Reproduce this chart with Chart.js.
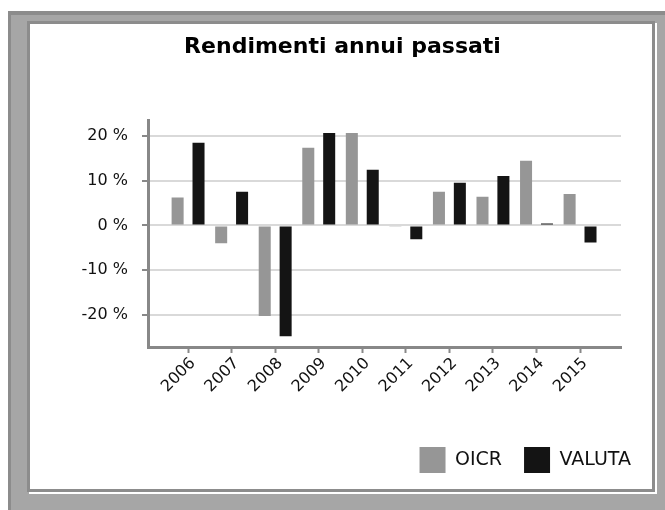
<!DOCTYPE html>
<html>
<head>
<meta charset="utf-8">
<script src="https://cdn.jsdelivr.net/npm/chart.js@4/dist/chart.umd.min.js"></script>
<style>
  html, body { margin: 0; padding: 0; background: #ffffff; }
  body { width: 665px; height: 510px; position: relative; overflow: hidden; }
  .outer { position: absolute; left: 8px; top: 11px; width: 657px; height: 499px; box-sizing: border-box;
           background: #a6a6a6; border-left: 3px solid #8c8c8c; border-top: 4px solid #8c8c8c; }
  .inner { position: absolute; left: 27px; top: 21px; width: 628px; height: 471px; box-sizing: border-box;
           background: #ffffff; border: 3px solid #8c8c8c; box-shadow: 2px 2px 0 #ffffff; }
  canvas { position: absolute; left: 0; top: 0; }
</style>
</head>
<body>
<div class="outer"></div>
<div class="inner"></div>
<canvas id="c" width="665" height="510"></canvas>
<script>
const titleText = 'Rendimenti annui passati';
const years = ['2006', '2007', '2008', '2009', '2010', '2011', '2012', '2013', '2014', '2015'];
const seriesNames = ['OICR', 'VALUTA'];
const oicr = [6.2, -4.0, -20.2, 17.3, 20.6, -0.2, 7.5, 6.4, 14.4, 7.0];
const valuta = [18.4, 7.5, -24.7, 20.6, 12.4, -3.1, 9.5, 11.0, 0.4, -3.8];
const yTickStep = 10;

const font = 'DejaVu Sans';
const axisColor = '#888888';

new Chart(document.getElementById('c'), {
  type: 'bar',
  data: {
    labels: years,
    datasets: [
      { label: seriesNames[0], data: oicr, backgroundColor: '#969696', borderWidth: 0 },
      { label: seriesNames[1], data: valuta, backgroundColor: '#141414', borderWidth: 0 }
    ]
  },
  options: {
    responsive: false,
    animation: false,
    devicePixelRatio: 1,
    categoryPercentage: 0.96,
    barPercentage: 0.575,
    layout: { padding: { left: 32, right: 12, top: 25, bottom: 27 } },
    plugins: {
      title: {
        display: true,
        text: titleText,
        color: '#000000',
        font: { family: font, size: 22, weight: 'bold' },
        padding: { top: 9, bottom: 60 }
      },
      legend: {
        display: true,
        position: 'bottom',
        align: 'end',
        labels: {
          boxWidth: 26,
          boxHeight: 26,
          padding: 22,
          color: '#111111',
          font: { family: font, size: 19 }
        }
      },
      tooltip: { enabled: false }
    },
    scales: {
      x: {
        type: 'linear',
        min: 2005.08,
        max: 2015.94,
        offset: false,
        afterFit: (s) => { s.height = 78; s.paddingRight = 44; },
        border: { display: true, color: axisColor, width: 3 },
        grid: { display: true, offset: false, drawOnChartArea: false, drawTicks: true,
                tickLength: 6, tickColor: axisColor, tickWidth: 2 },
        ticks: {
          stepSize: 1,
          includeBounds: false,
          autoSkip: false,
          minRotation: 45,
          maxRotation: 45,
          padding: 1,
          labelOffset: 5,
          color: '#111111',
          font: { family: font, size: 16 },
          callback: (v) => String(v)
        }
      },
      y: {
        min: -27.1,
        max: 23.4,
        afterFit: (s) => { s.width = 116; },
        border: { display: true, color: axisColor, width: 3 },
        grid: { color: '#d9d9d9', lineWidth: 2, drawTicks: true, tickLength: 6,
                tickColor: axisColor, tickWidth: 2 },
        ticks: {
          stepSize: yTickStep,
          includeBounds: false,
          padding: 14,
          color: '#111111',
          font: { family: font, size: 16 },
          callback: (v) => v + ' %'
        }
      }
    }
  }
});
</script>
</body>
</html>
